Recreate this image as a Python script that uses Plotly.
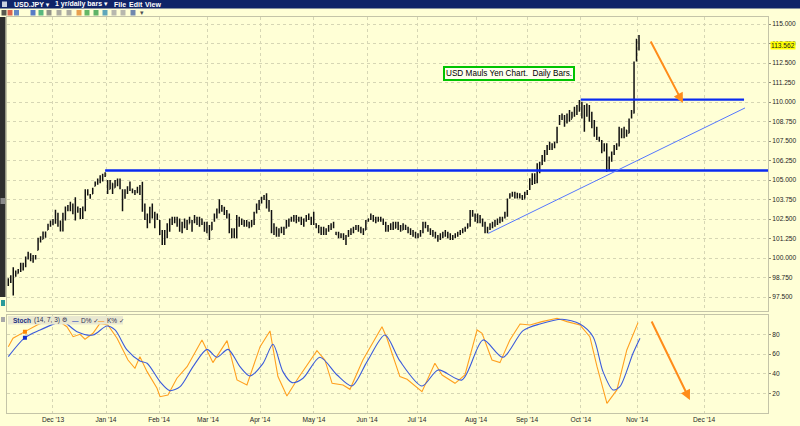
import plotly.graph_objects as go

# ---------------- data ----------------
highs = [
    98.7, 98.9, 99.4, 99.2, 99.3, 99.7, 99.7, 100.1, 100.4, 100.3,
    100.2, 100.2, 101.3, 101.4, 101.7, 101.7, 102.2, 102.4, 102.5, 103.1,
    102.9, 102.4, 102.9, 103.3, 103.4, 103.6, 103.5, 103.9, 103.3, 103.2,
    103.3, 104.4, 104.4, 104.1, 104.5, 104.9, 105.1, 105.3, 105.4, 105.5,
    105.0, 105.0, 104.8, 105.0, 105.1, 105.1, 104.4, 104.4, 104.6, 104.9,
    104.46, 104.36, 104.57, 104.68, 104.89, 103.5, 102.86, 103.29, 103.5, 102.97,
    102.86, 102.44, 101.79, 101.79, 102.22, 102.54, 102.65, 102.65, 102.65, 102.54,
    102.33, 102.54, 102.44, 102.65, 102.44, 102.76, 102.65, 102.65, 102.54, 102.33,
    102.33, 102.11, 102.33, 102.86, 103.18, 103.76, 103.4, 103.29, 103.08, 102.86,
    101.9, 101.9, 102.76, 102.65, 102.54, 102.44, 102.44, 102.33, 102.44, 102.97,
    103.5, 103.72, 103.93, 104.04, 104.15, 103.72, 103.08, 102.22, 102.0, 101.9,
    102.0, 102.0, 102.44, 102.54, 102.65, 102.76, 102.76, 102.65, 102.65, 102.54,
    102.76, 102.86, 102.65, 102.97, 102.22, 102.12, 102.0, 102.0, 101.9, 102.12,
    102.22, 102.33, 101.69, 101.69, 101.58, 101.58, 101.47, 101.79, 101.9, 102.0,
    102.12, 102.12, 102.0, 101.9, 102.44, 102.54, 102.86, 102.76, 102.65, 102.65,
    102.65, 102.54, 102.33, 102.12, 102.22, 102.33, 102.33, 102.33, 102.12, 102.22,
    102.12, 102.0, 101.9, 101.79, 101.69, 101.58, 101.79, 102.33, 102.33, 102.12,
    101.9, 101.79, 101.69, 101.47, 101.58, 101.69, 101.79, 101.69, 101.58, 101.47,
    101.58, 101.69, 101.79, 101.9, 102.0, 102.22, 103.08, 103.08, 102.86, 102.86,
    102.76, 102.54, 102.33, 102.0, 102.22, 102.33, 102.44, 102.54, 102.65, 102.65,
    102.97, 103.82, 104.15, 104.25, 104.25, 104.19, 104.15, 104.04, 104.25, 104.36,
    105.11, 105.43, 105.43, 106.07, 106.17, 106.6, 106.92, 107.24, 107.46, 107.35,
    107.46, 108.42, 109.17, 109.27, 109.17, 109.27, 109.49, 109.38, 109.7, 109.81,
    110.13, 110.02, 109.81, 109.91, 109.81, 109.38, 108.85, 108.42, 107.78, 107.56,
    107.35, 107.35, 106.5, 106.82, 107.24, 107.35, 108.42, 108.31, 108.42, 108.2,
    108.95, 109.49, 112.59, 114.05, 114.3,
]
lows = [
    98.2, 98.4, 97.6, 98.8, 99.0, 99.1, 99.2, 99.4, 99.9, 99.8,
    99.7, 99.9, 100.5, 101.0, 101.2, 101.3, 101.8, 102.0, 102.1, 102.2,
    102.0, 101.7, 101.7, 102.4, 103.0, 103.0, 102.8, 102.4, 102.9, 102.5,
    102.5, 103.0, 104.0, 103.8, 104.1, 104.6, 104.7, 104.8, 104.9, 105.2,
    104.1, 104.4, 104.1, 104.5, 104.6, 104.4, 103.0, 103.8, 104.1, 104.3,
    104.15, 104.04, 104.15, 104.04, 102.97, 102.44, 101.9, 102.22, 102.54, 101.9,
    102.44, 101.47, 100.83, 100.83, 101.26, 101.69, 102.11, 102.22, 102.0, 101.69,
    101.58, 101.9, 101.79, 102.22, 101.69, 102.22, 102.11, 102.0, 102.11, 101.69,
    101.58, 101.15, 101.79, 102.33, 102.54, 102.86, 102.97, 102.76, 102.54, 101.58,
    101.26, 101.26, 101.26, 102.0, 102.11, 102.0, 102.0, 101.9, 102.0, 102.12,
    102.86, 103.08, 103.5, 103.72, 103.18, 102.97, 101.58, 101.47, 101.37, 101.37,
    101.58, 101.47, 101.9, 102.0, 102.33, 102.33, 102.22, 102.33, 102.12, 102.0,
    102.33, 102.44, 102.12, 102.12, 101.9, 101.58, 101.47, 101.47, 101.47, 101.69,
    101.79, 101.9, 101.47, 101.26, 101.26, 101.15, 100.83, 101.37, 101.47, 101.58,
    101.79, 101.69, 101.58, 101.47, 101.79, 102.33, 102.44, 102.33, 102.22, 102.33,
    102.33, 102.12, 101.69, 101.69, 101.79, 101.79, 101.9, 101.79, 101.69, 101.79,
    101.79, 101.58, 101.47, 101.37, 101.26, 101.26, 101.37, 101.58, 101.9, 101.69,
    101.47, 101.37, 101.26, 101.05, 101.15, 101.26, 101.37, 101.26, 101.15, 101.15,
    101.26, 101.37, 101.47, 101.58, 101.69, 101.9, 102.0, 102.65, 102.33, 102.22,
    102.22, 102.0, 101.58, 101.58, 101.79, 101.9, 102.0, 102.12, 102.22, 102.33,
    102.54, 102.65, 103.82, 103.93, 103.82, 103.82, 103.82, 103.72, 103.82, 104.04,
    104.36, 104.68, 104.74, 104.79, 105.43, 105.96, 106.17, 106.6, 106.92, 106.92,
    107.03, 107.35, 108.53, 108.85, 108.42, 108.63, 108.74, 108.95, 109.06, 109.17,
    109.38, 108.95, 108.1, 109.06, 108.74, 108.31, 107.78, 107.56, 107.46, 106.71,
    106.82, 105.53, 105.64, 106.17, 106.6, 106.92, 107.14, 107.67, 107.67, 107.78,
    107.99, 108.95, 109.27, 112.6, 113.3,
]
opens = [
    98.3, 98.6, 98.5, 99.1, 99.0, 99.2, 99.6, 99.5, 100.0, 100.2,
    99.9, 100.1, 100.5, 101.2, 101.2, 101.6, 101.8, 102.1, 102.3, 102.4,
    102.8, 102.1, 101.9, 102.8, 103.2, 103.1, 103.4, 102.9, 103.1, 103.0,
    102.7, 103.2, 104.2, 104.0, 104.1, 104.6, 104.8, 105.0, 105.2, 105.3,
    104.9, 104.4, 104.8, 104.5, 104.9, 104.7, 104.3, 103.9, 104.3, 104.5,
    104.4, 104.2, 104.3, 104.5, 104.6, 103.1, 102.6, 102.3, 103.0, 102.7,
    102.5, 102.4, 101.6, 101.0, 101.5, 102.0, 102.4, 102.3, 102.5, 102.1,
    101.8, 102.2, 102.4, 102.2, 102.4, 102.3, 102.6, 102.3, 102.5, 102.2,
    101.8, 102.0, 101.8, 102.4, 102.7, 103.1, 103.3, 103.1, 102.9, 102.7,
    101.8, 101.4, 101.4, 102.5, 102.2, 102.4, 102.1, 102.3, 102.0, 102.4,
    102.9, 103.3, 103.6, 103.8, 103.9, 103.3, 103.0, 101.7, 101.9, 101.5,
    101.8, 101.7, 101.9, 102.3, 102.4, 102.6, 102.5, 102.6, 102.4, 102.2,
    102.5, 102.7, 102.5, 102.3, 102.2, 102.0, 101.7, 101.8, 101.6, 101.8,
    102.0, 102.1, 101.6, 101.5, 101.4, 101.5, 101.3, 101.4, 101.7, 101.8,
    101.9, 102.0, 101.8, 101.7, 101.8, 102.4, 102.5, 102.7, 102.5, 102.4,
    102.5, 102.4, 102.2, 101.8, 102.0, 102.1, 101.9, 102.2, 101.9, 101.8,
    102.1, 101.9, 101.7, 101.6, 101.5, 101.4, 101.5, 101.7, 102.2, 102.0,
    101.8, 101.6, 101.5, 101.3, 101.2, 101.4, 101.6, 101.5, 101.3, 101.3,
    101.4, 101.5, 101.6, 101.7, 101.8, 101.9, 102.1, 102.9, 102.8, 102.5,
    102.6, 102.3, 102.1, 101.7, 101.9, 102.1, 102.2, 102.3, 102.4, 102.5,
    102.6, 102.9, 103.85, 104.0, 104.1, 103.9, 104.1, 103.9, 103.8, 104.2,
    104.4, 105.0, 105.3, 104.9, 106.0, 106.0, 106.5, 106.8, 107.1, 107.2,
    107.1, 107.4, 108.6, 109.0, 109.1, 108.7, 109.2, 108.9, 109.3, 109.6,
    109.7, 109.7, 109.0, 109.1, 109.7, 108.9, 108.5, 107.9, 107.7, 107.5,
    106.9, 107.1, 106.0, 106.3, 106.7, 107.1, 107.2, 108.2, 107.8, 108.2,
    108.0, 109.0, 109.3, 112.7, 113.9,
]
closes = [
    98.6, 98.5, 99.2, 98.9, 99.2, 99.6, 99.3, 100.0, 100.2, 99.9,
    100.1, 100.1, 101.2, 101.1, 101.6, 101.5, 102.1, 102.3, 102.4, 102.9,
    102.1, 101.9, 102.8, 103.2, 103.1, 103.4, 102.9, 103.1, 103.0, 102.7,
    103.2, 104.2, 104.1, 104.0, 104.4, 104.8, 105.0, 105.2, 105.3, 105.3,
    104.3, 104.9, 104.2, 104.9, 104.7, 104.5, 103.2, 104.3, 104.5, 104.4,
    104.2, 104.3, 104.5, 104.6, 103.1, 102.6, 102.1, 103.0, 102.7, 102.0,
    102.7, 101.6, 101.0, 101.6, 102.0, 102.4, 102.3, 102.5, 102.1, 101.8,
    102.2, 102.4, 102.0, 102.5, 101.8, 102.6, 102.3, 102.5, 102.2, 101.8,
    102.1, 101.3, 102.2, 102.7, 103.1, 103.5, 103.1, 102.9, 102.7, 101.8,
    101.4, 101.7, 102.6, 102.2, 102.4, 102.1, 102.3, 102.0, 102.4, 102.8,
    103.4, 103.6, 103.8, 103.9, 103.3, 103.1, 101.7, 101.9, 101.5, 101.8,
    101.7, 101.9, 102.4, 102.4, 102.6, 102.5, 102.6, 102.4, 102.2, 102.5,
    102.7, 102.5, 102.3, 102.2, 102.0, 101.7, 101.8, 101.6, 101.8, 102.0,
    102.1, 102.0, 101.5, 101.4, 101.5, 101.3, 101.3, 101.7, 101.8, 101.9,
    102.0, 101.8, 101.7, 101.8, 102.4, 102.5, 102.7, 102.5, 102.4, 102.5,
    102.4, 102.2, 101.8, 102.0, 102.1, 101.9, 102.2, 101.9, 101.8, 102.1,
    101.9, 101.7, 101.6, 101.5, 101.4, 101.5, 101.7, 102.2, 102.0, 101.8,
    101.6, 101.5, 101.3, 101.2, 101.4, 101.6, 101.5, 101.3, 101.3, 101.4,
    101.5, 101.6, 101.7, 101.8, 101.9, 102.1, 102.9, 102.8, 102.5, 102.6,
    102.3, 102.1, 101.7, 101.9, 102.1, 102.2, 102.3, 102.4, 102.5, 102.6,
    102.9, 103.7, 104.0, 104.1, 103.9, 104.1, 103.9, 103.8, 104.2, 104.3,
    105.0, 105.3, 104.9, 106.0, 105.9, 106.5, 106.8, 107.1, 107.2, 107.1,
    107.3, 108.3, 109.0, 109.1, 108.6, 109.2, 108.9, 109.3, 109.6, 109.7,
    109.7, 109.0, 108.5, 109.8, 108.9, 108.4, 107.9, 107.7, 107.6, 106.9,
    107.1, 106.0, 106.3, 106.7, 107.1, 107.2, 108.2, 107.8, 108.3, 108.0,
    108.8, 109.3, 112.3, 113.9, 113.56,
]
bar_idx = list(range(len(highs)))

month_pos = [18.0, 39.35, 60.7, 80.4, 101.4, 123.1, 144.5, 164.6, 188.4,
             208.9, 230.6, 253.2, 280.2]
month_labels = ["Dec '13", "Jan '14", "Feb '14", "Mar '14", "Apr '14", "May '14",
                "Jun '14", "Jul '14", "Aug '14", "Sep '14", "Oct '14", "Nov '14", "Dec '14"]
price_ticks = [97.5, 98.75, 100.0, 101.25, 102.5, 103.75, 105.0, 106.25, 107.5,
               108.75, 110.0, 111.25, 112.5, 113.75, 115.0]
stoch_ticks = [20, 40, 60, 80]
last_price = 113.562

# Stochastic (14,7,3): K% (orange) and D% (blue), sampled along the bar index
k_idx = [0, 1.9, 6.7, 11.6, 14.8, 20.0, 23.6, 26.1, 28.9, 30.9, 34.1, 36.9, 40.1, 43.8,
         48.2, 51.0, 53.0, 55.9, 59.9, 61.1, 64.3, 67.9, 72.0, 78.0, 82.4, 88.1, 92.1,
         96.1, 101.4, 105.4, 108.6, 112.2, 116.7, 122.3, 124.3, 127.5, 130.4, 134.8,
         137.6, 142.8, 150.5, 152.5, 157.7, 160.6, 166.6, 171.8, 174.7, 179.9, 183.9,
         188.8, 190.8, 194.8, 198.0, 202.0, 206.1, 210.1, 214.9, 221.0, 225.0, 230.2,
         234.2, 237.1, 241.1, 245.1, 249.1, 253.6]
k_vals = [67.5, 76, 82.7, 89.4, 92.8, 93.8, 87.7, 77.6, 80, 75, 81, 91, 89.4, 76,
          54, 45.7, 57.4, 42.3, 25.5, 17, 18.7, 35.6, 47.3, 74.3, 51.4, 73.6, 33.9,
          28.8, 67.5, 83.4, 37.3, 17.7, 35.6, 55.8, 63.5, 54.1, 30.5, 28.8,
          24.4, 54.1, 87.7, 76, 37.3, 34.6, 22.1, 50.7, 38.9, 30.5, 38.9,
          84.4, 81, 54.1, 51.4, 74.3, 90.4, 89.4, 92.8, 96.2, 92.8, 89.4,
          77.6, 47.3, 10.2, 23.8, 64.2, 91.8]
d_idx = [0, 6.7, 12.8, 19.6, 21.6, 27.7, 34.1, 39.7, 43.0, 47.8, 53.0, 55.9, 61.1,
         65.1, 69.2, 74.4, 80.0, 84.0, 88.5, 93.3, 97.3, 102.6, 106.6, 110.6, 114.3,
         118.7, 125.5, 132.4, 138.4, 144.5, 151.7, 157.7, 166.6, 173.1, 182.7, 191.2,
         199.2, 207.3, 214.1, 223.0, 230.2, 235.5, 239.5, 243.5, 246.3, 251.6, 254.4]
d_vals = [57.4, 76.6, 84.4, 91.8, 93.8, 82.7, 79.3, 88.4, 84.4, 64.2, 53.1, 50.7, 32.2,
          23.1, 27.1, 47.3, 64.8, 56.8, 64.8, 47.3, 37.9, 50.7, 69.9, 42.3, 31.2,
          35.6, 56.8, 38.9, 27.8, 52.4, 79.3, 53.1, 27.8, 44, 33.9, 74.3,
          56.8, 83.7, 90.4, 95.2, 90.4, 77.6, 42.3, 23.8, 27.1, 60.8, 76]

# Drawings placed on the chart (bar index, price / stochastic value)
support_level, support_from = 105.61, 39.0
resistance_level, resistance_from, resistance_to = 110.15, 230.5, 296.3
trend_x, trend_y = [193.3, 296.7], [101.58, 109.62]
price_arrow_x, price_arrow_y = [258.4, 271.7], [113.97, 109.94]
stoch_arrow_x, stoch_arrow_y = [258.8, 274.5], [94.4, 13.6]
note_x, note_y = 201.6, 111.84

# ---------------- styling / geometry ----------------
W, H = 800, 426
ML, MR, MT, MB = 7, 32, 17, 13
PW, PH = W - ML - MR, H - MT - MB
BG = "#FFFFD6"
GRID = "#D6D6B4"
FRAME = "#C4C4A8"
FONT = "Liberation Sans, Arial, DejaVu Sans, sans-serif"
X_RANGE = [-0.52, 305.95]


def pxx(px):
    return (px - ML) / PW


def pxy(py):
    return (H - MB - py) / PH


fig = go.Figure()

fig.add_trace(go.Ohlc(
    x=bar_idx, open=opens, high=highs, low=lows, close=closes,
    increasing=dict(line=dict(color="#111111", width=1.5)),
    decreasing=dict(line=dict(color="#111111", width=1.5)),
    tickwidth=0.3, xaxis="x", yaxis="y", showlegend=False, hoverinfo="skip"))

fig.add_trace(go.Scatter(x=[support_from, X_RANGE[1]], y=[support_level, support_level],
                         mode="lines", line=dict(color="#0A2BF0", width=2.3),
                         xaxis="x", yaxis="y", hoverinfo="skip"))
fig.add_trace(go.Scatter(x=[resistance_from, resistance_to], y=[resistance_level, resistance_level],
                         mode="lines", line=dict(color="#0A2BF0", width=2.3),
                         xaxis="x", yaxis="y", hoverinfo="skip"))
fig.add_trace(go.Scatter(x=trend_x, y=trend_y, mode="lines",
                         line=dict(color="#5577FF", width=1),
                         xaxis="x", yaxis="y", hoverinfo="skip"))

fig.add_trace(go.Scatter(x=k_idx, y=k_vals, mode="lines",
                         line=dict(color="#FFA020", width=1.1),
                         xaxis="x2", yaxis="y2", hoverinfo="skip"))
fig.add_trace(go.Scatter(x=d_idx, y=d_vals, mode="lines",
                         line=dict(color="#3B5BDB", width=1.1, shape="spline", smoothing=0.8),
                         xaxis="x2", yaxis="y2", hoverinfo="skip"))
fig.add_trace(go.Scatter(x=[k_idx[2]], y=[k_vals[2]], mode="markers",
                         marker=dict(symbol="square", size=4, color="#FF8800"),
                         xaxis="x2", yaxis="y2", hoverinfo="skip"))
fig.add_trace(go.Scatter(x=[d_idx[1]], y=[d_vals[1]], mode="markers",
                         marker=dict(symbol="square", size=4, color="#1030D0"),
                         xaxis="x2", yaxis="y2", hoverinfo="skip"))

axis_font = dict(family=FONT, size=6.6, color="#1E1E1E")

fig.update_layout(
    width=W, height=H, margin=dict(l=ML, r=MR, t=MT, b=MB, autoexpand=False),
    paper_bgcolor=BG, plot_bgcolor=BG, showlegend=False, hovermode=False,
    font=dict(family=FONT, size=7, color="#1E1E1E"),
    xaxis=dict(domain=[0, 1], anchor="y", range=X_RANGE, tickvals=month_pos,
               showticklabels=False, ticks="", showgrid=True, gridcolor=GRID,
               griddash="dot", gridwidth=1, zeroline=False, showline=True,
               mirror=True, linecolor=FRAME, linewidth=1, automargin=False,
               rangeslider=dict(visible=False)),
    yaxis=dict(domain=[pxy(311), 1], anchor="x", side="right",
               range=[96.603, 115.449], tickvals=price_ticks,
               ticktext=["%.3f" % v for v in price_ticks], tickfont=axis_font,
               ticks="outside", ticklen=2, tickcolor="#8C8C7A", automargin=False,
               showgrid=True, gridcolor=GRID, griddash="dot", zeroline=False,
               showline=True, mirror=True, linecolor=FRAME, linewidth=1),
    xaxis2=dict(domain=[0, 1], anchor="y2", matches="x", range=X_RANGE,
                tickvals=month_pos, ticktext=month_labels, tickfont=axis_font,
                ticks="", showgrid=True, gridcolor=GRID, griddash="dot",
                zeroline=False, showline=True, mirror=True, linecolor=FRAME,
                linewidth=1, automargin=False),
    yaxis2=dict(domain=[0, pxy(314.5)], anchor="x2", side="right", range=[0.5, 100],
                tickvals=stoch_ticks, tickfont=axis_font, ticks="outside",
                ticklen=2, tickcolor="#8C8C7A", showgrid=True, gridcolor=GRID,
                griddash="dot", zeroline=False, showline=True, mirror=True,
                linecolor=FRAME, linewidth=1, automargin=False),
)

shapes = []
# window title bar
shapes.append(dict(type="rect", xref="paper", yref="paper", x0=pxx(0), x1=pxx(800),
                   y0=pxy(8.5), y1=pxy(0), fillcolor="#0F2468", line=dict(width=0), layer="above"))
shapes.append(dict(type="rect", xref="paper", yref="paper", x0=pxx(2), x1=pxx(7),
                   y0=pxy(7), y1=pxy(1.5), fillcolor="#C8D0E0", line=dict(width=0), layer="above"))
# toolbar icons (small glyph blocks)
icon_specs = [(1.5, "#222222"), (7.5, "#D03020"), (14, "#3060C0"), (30.5, "#2050C0"),
              (38.5, "#20A060"), (46.5, "#707070"), (56.5, "#909090"), (66.5, "#909090"),
              (76.5, "#E08020"), (84.5, "#30A040"), (93.5, "#2A9A40"), (102.5, "#2A8AB0"),
              (111.5, "#A0A0A0"), (120.5, "#A0A0A0"), (130.5, "#4060A0")]
for ix, col in icon_specs:
    shapes.append(dict(type="rect", xref="paper", yref="paper", x0=pxx(ix), x1=pxx(ix + 5),
                       y0=pxy(15.5), y1=pxy(10), fillcolor=col, line=dict(width=0),
                       opacity=0.75, layer="above"))
# left side strip
shapes.append(dict(type="rect", xref="paper", yref="paper", x0=pxx(0), x1=pxx(5.5),
                   y0=pxy(297), y1=pxy(17), fillcolor="#2E2E2E", line=dict(width=0), layer="above"))
shapes.append(dict(type="rect", xref="paper", yref="paper", x0=pxx(0.5), x1=pxx(5),
                   y0=pxy(204), y1=pxy(198), fillcolor="#8A8A8A", line=dict(width=0), layer="above"))
shapes.append(dict(type="rect", xref="paper", yref="paper", x0=pxx(1), x1=pxx(5),
                   y0=pxy(306), y1=pxy(300), fillcolor="#2A9A9A", line=dict(width=0), layer="above"))
shapes.append(dict(type="rect", xref="paper", yref="paper", x0=pxx(1), x1=pxx(5),
                   y0=pxy(322), y1=pxy(317), fillcolor="#A8A8A8", line=dict(width=0), layer="above"))
# stochastic header box
shapes.append(dict(type="rect", xref="paper", yref="paper", x0=pxx(8), x1=pxx(123),
                   y0=pxy(324.5), y1=pxy(316), fillcolor="#E9E8D0", line=dict(width=0), layer="above"))
fig.update_layout(shapes=shapes)

ann = []
# title bar texts
for tx, txt in [(12, "USD.JPY \u25BE"), (53, "1 yr/daily bars \u25BE"), (112, "File"),
                (127, "Edit"), (143, "View")]:
    ann.append(dict(xref="paper", yref="paper", x=pxx(tx), y=pxy(4.3), xanchor="left",
                    yanchor="middle", text="<b>%s</b>" % txt, showarrow=False,
                    font=dict(family=FONT, size=7, color="#FFFFFF")))
ann.append(dict(xref="paper", yref="paper", x=pxx(138), y=pxy(12.8), xanchor="left",
                yanchor="middle", text="\u25BE", showarrow=False,
                font=dict(family=FONT, size=7, color="#505050")))
# stochastic header
hdr = [(11, "<b>Stoch</b>", "#203080"), (32, "(14, 7, 3) \u2699", "#303050"),
       (70, "\u2014", "#1030C0"), (79, "D% \u2713", "#303050"),
       (96, "\u2014", "#FF8800"), (105, "K% \u2713", "#303050")]
for tx, txt, col in hdr:
    ann.append(dict(xref="paper", yref="paper", x=pxx(tx), y=pxy(320.3), xanchor="left",
                    yanchor="middle", text=txt, showarrow=False,
                    font=dict(family=FONT, size=6.5, color=col)))
# current price tag
ann.append(dict(xref="paper", yref="y", x=1, y=last_price, xanchor="left", yanchor="middle",
                xshift=2, yshift=1, text="%.3f" % last_price, showarrow=False, bgcolor="#FFFF00",
                borderpad=0, font=dict(family=FONT, size=6.6, color="#202020")))
# green note box
ann.append(dict(xref="x", yref="y", x=note_x, y=note_y, xanchor="center", yanchor="middle",
                text="USD Mauls Yen Chart.\u00a0\u00a0Daily Bars.", showarrow=False,
                bgcolor="#FFFFEE", bordercolor="#00C400", borderwidth=2, borderpad=1,
                font=dict(family=FONT, size=8.2, color="#000000")))
# orange arrows
ann.append(dict(xref="x", yref="y", axref="x", ayref="y", x=price_arrow_x[1], y=price_arrow_y[1],
                ax=price_arrow_x[0], ay=price_arrow_y[0], showarrow=True, arrowhead=2,
                arrowsize=1, arrowwidth=2, arrowcolor="#FF8C1A", text=""))
ann.append(dict(xref="x2", yref="y2", axref="x2", ayref="y2", x=stoch_arrow_x[1], y=stoch_arrow_y[1],
                ax=stoch_arrow_x[0], ay=stoch_arrow_y[0], showarrow=True, arrowhead=2,
                arrowsize=1, arrowwidth=2, arrowcolor="#FF8C1A", text=""))
fig.update_layout(annotations=ann)

# the page's default 8px body margin would offset the 800x426 figure inside the window
fig.write_html("out.html", config={"displayModeBar": False},
               post_script="document.body.style.margin='0px';document.body.style.overflow='hidden';")
